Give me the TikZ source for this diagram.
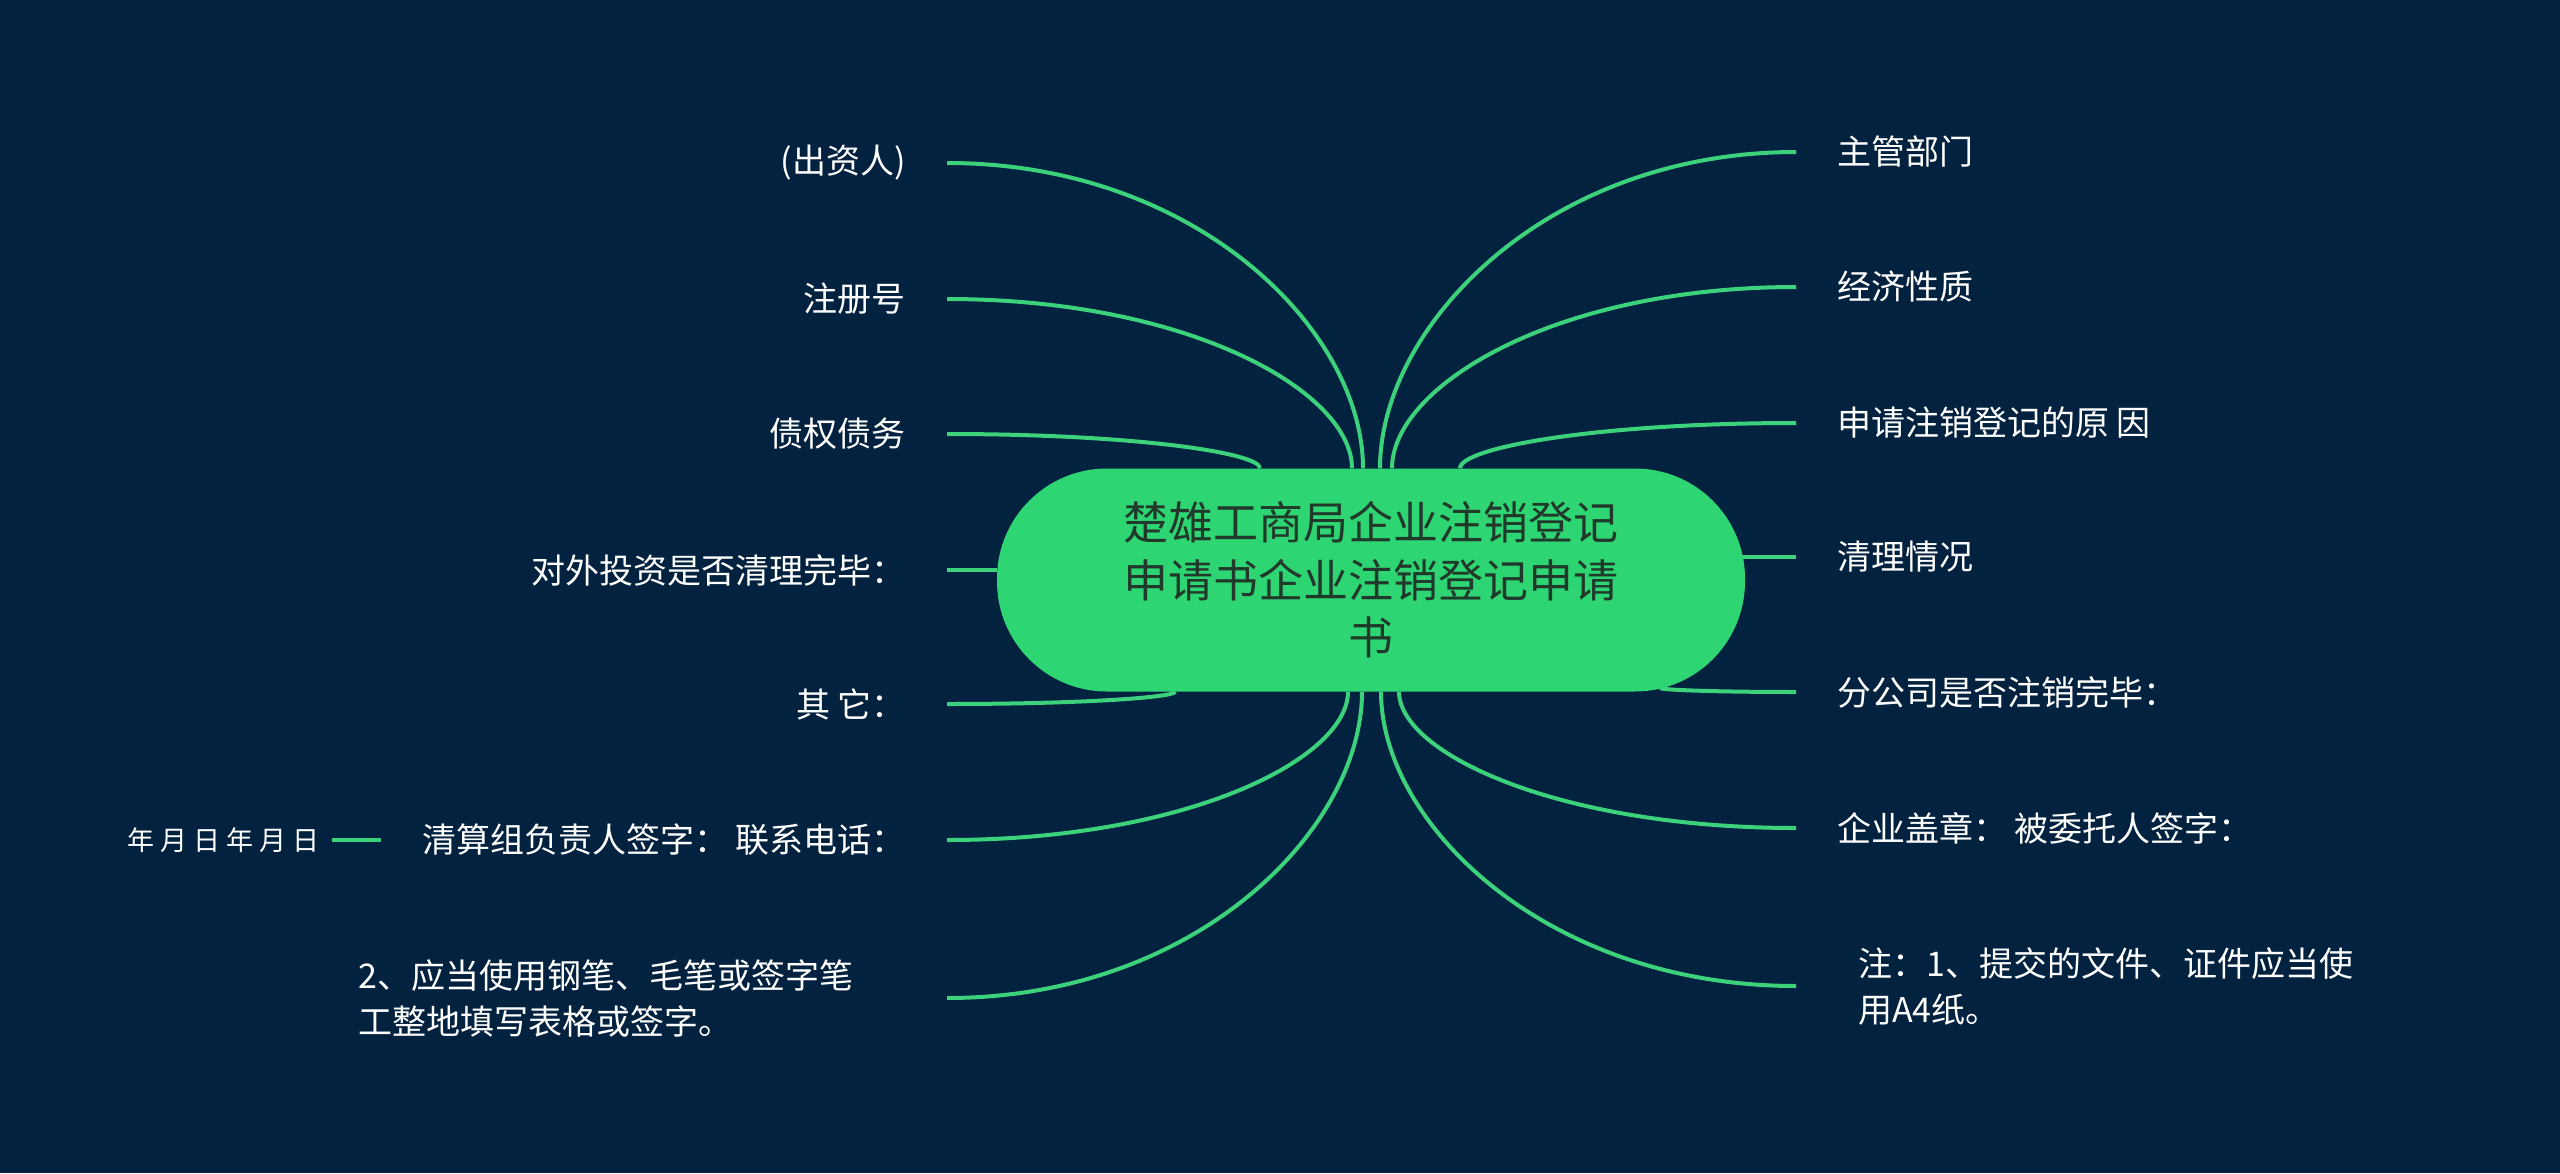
\documentclass[tikz,border=0pt]{standalone}
\usepackage{fontspec}
\setmainfont{Noto Sans CJK SC}
\usetikzlibrary{calc}
\definecolor{bgc}{HTML}{03223F}
\definecolor{nodec}{HTML}{2ED573}
\definecolor{linec}{HTML}{3CD27C}
\definecolor{roottext}{HTML}{21392B}
\pgfdeclarelayer{bglayer}
\pgfdeclarelayer{linklayer}
\pgfsetlayers{bglayer,linklayer,main}
\newcommand\mmlink[2]{\draw[link] (#1) .. controls ($(#1)!0.6!(#2|-#1)$) and ($(#2)!0.45!(#2|-#1)$) .. (#2);}
\begin{document}
\begin{tikzpicture}[x=1pt,y=-1pt,
  link/.style={draw=linec,line width=4pt},
  rootbox/.style={fill=nodec,rounded corners=110pt,minimum width=748pt,minimum height=223pt,inner sep=0pt,align=center,text=roottext,font=\fontsize{45}{57.5}\selectfont},
  leafl/.style={anchor=east,inner xsep=41pt,inner ysep=0pt,text=white,font=\fontsize{34}{46}\selectfont},
  leafr/.style={anchor=west,inner xsep=41pt,inner ysep=0pt,text=white,font=\fontsize{34}{46}\selectfont},
  smallleaf/.style={anchor=east,inner xsep=12pt,inner ysep=0pt,text=white,font=\fontsize{27}{32}\selectfont}]
\useasboundingbox (0,0) rectangle (2560,1173);
\begin{pgfonlayer}{bglayer}
\fill[bgc] (0,0) rectangle (2560,1173);
\end{pgfonlayer}

\node[rootbox] (root) at (1371,580) {楚雄工商局企业注销登记\\申请书企业注销登记申请\\书};

% left leaves
\node[leafl] (l1) at (947,163) {(出资人)};
\node[leafl] (l2) at (947,299) {注册号};
\node[leafl] (l3) at (947,434) {债权债务};
\node[leafl] (l4) at (947,570) {对外投资是否清理完毕：};
\node[leafl] (l5) at (947,704) {其 它：};
\node[leafl] (l6) at (947,840) {清算组负责人签字： 联系电话：};
\node[leafl,text width=547pt,align=left] (l7) at (947,998) {2、应当使用钢笔、毛笔或签字笔\\工整地填写表格或签字。};
\node[smallleaf] (n1) at ([xshift=-49pt]l6.west) {年 月 日 年 月 日};

% right leaves
\node[leafr] (r1) at (1796,152) {主管部门};
\node[leafr] (r2) at (1796,287) {经济性质};
\node[leafr] (r3) at (1796,423) {申请注销登记的原 因};
\node[leafr] (r4) at (1796,557) {清理情况};
\node[leafr] (r5) at (1796,692) {分公司是否注销完毕：};
\node[leafr] (r6) at (1796,828) {企业盖章： 被委托人签字：};
\node[leafr,inner xsep=62pt,text width=500pt,align=left] (r7) at (1796,986) {注：1、提交的文件、证件应当使\\用A4纸。};

% attachment points on the root
\coordinate (a1) at ([xshift=-8pt]root.north);
\coordinate (a2) at ([xshift=-19pt]root.north);
\coordinate (a3) at ([xshift=-111pt]root.north);
\coordinate (a4) at ([yshift=10pt]root.west);
\coordinate (a5) at ([xshift=-196pt]root.south);
\coordinate (a6) at ([xshift=-23pt]root.south);
\coordinate (a7) at ([xshift=-9pt]root.south);
\coordinate (b1) at ([xshift=9pt]root.north);
\coordinate (b2) at ([xshift=21pt]root.north);
\coordinate (b3) at ([xshift=89pt]root.north);
\coordinate (b4) at ([shift={(-3pt,23pt)}]root.east);
\coordinate (b5) at ([shift={(-85pt,-108pt)}]root.east);
\coordinate (b6) at ([xshift=28pt]root.south);
\coordinate (b7) at ([xshift=10pt]root.south);

\begin{pgfonlayer}{linklayer}
\mmlink{l1.east}{a1}
\mmlink{l2.east}{a2}
\mmlink{l3.east}{a3}
\mmlink{l4.east}{a4}
\mmlink{l5.east}{a5}
\mmlink{l6.east}{a6}
\mmlink{l7.east}{a7}
\mmlink{r1.west}{b1}
\mmlink{r2.west}{b2}
\mmlink{r3.west}{b3}
\mmlink{r4.west}{b4}
\mmlink{r5.west}{b5}
\mmlink{r6.west}{b6}
\mmlink{r7.west}{b7}
\draw[link] (n1.east) -- (l6.west);
\end{pgfonlayer}
\end{tikzpicture}
\end{document}
